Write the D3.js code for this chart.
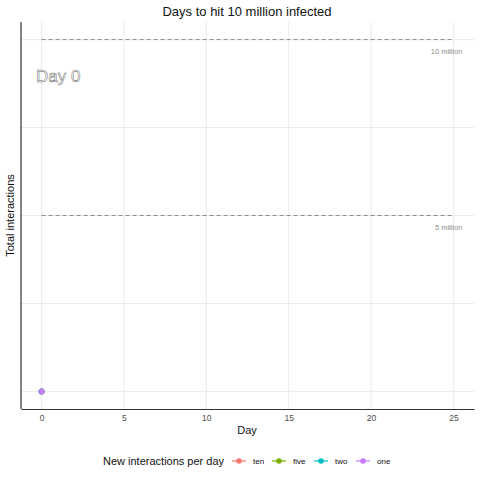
<!DOCTYPE html>
<html>
<head>
<meta charset="utf-8">
<script src="https://cdn.jsdelivr.net/npm/d3@7"></script>
<style>
  body { margin: 0; background: #fff; }
  text { font-family: "Liberation Sans", Arial, sans-serif; }
</style>
</head>
<body>
<div id="chart"></div>
<script>
// series shown in the legend (ggplot default hues)
const seriesNames = ["ten", "five", "two", "one"];
const seriesColors = ["#F8766D", "#7CAE00", "#00BFC4", "#C77CFF"];
// frame "Day 0": every series sits at the start
const seriesDays = [0, 0, 0, 0];
const seriesValues = [10, 5, 2, 1];

const xTicks = [0, 5, 10, 15, 20, 25];
const yGrid = [0, 2500000, 5000000, 7500000, 10000000];
const refValues = [10000000, 5000000];
const refLabels = ["10 million", "5 million"];

const width = 480, height = 480;
const margin = { top: 22, right: 6, bottom: 72, left: 21 };

const svg = d3.select("#chart").append("svg")
  .attr("width", width)
  .attr("height", height);

const x = d3.scaleLinear()
  .domain([-1.25, 26.25])
  .range([margin.left, width - margin.right]);

const y = d3.scaleLinear()
  .domain([-500000, 10500000])
  .range([height - margin.bottom + 1, margin.top]);

// gridlines
svg.append("g")
  .selectAll("line")
  .data(xTicks)
  .join("line")
  .attr("x1", d => x(d)).attr("x2", d => x(d))
  .attr("y1", y.range()[0]).attr("y2", y.range()[1])
  .attr("stroke", "#ebebeb").attr("stroke-width", 1);

svg.append("g")
  .selectAll("line")
  .data(yGrid)
  .join("line")
  .attr("x1", x.range()[0]).attr("x2", x.range()[1])
  .attr("y1", d => y(d)).attr("y2", d => y(d))
  .attr("stroke", "#ebebeb").attr("stroke-width", 1);

// reference lines
svg.append("g")
  .selectAll("line")
  .data(refValues)
  .join("line")
  .attr("x1", x(0)).attr("x2", x(25))
  .attr("y1", d => y(d)).attr("y2", d => y(d))
  .attr("stroke", "#8c8c8c")
  .attr("stroke-width", 1)
  .attr("stroke-dasharray", "4,3");

svg.append("g")
  .selectAll("text")
  .data(refValues)
  .join("text")
  .attr("x", x(25) + 9)
  .attr("y", d => y(d) + 14)
  .attr("text-anchor", "end")
  .attr("font-size", 7.5)
  .attr("fill", "#8c8c8c")
  .text((d, i) => refLabels[i]);

// axes
const xAxis = d3.axisBottom(x).tickValues(xTicks).tickSize(0).tickPadding(6);
const gx = svg.append("g")
  .attr("transform", `translate(0,${y.range()[0]})`)
  .call(xAxis);
gx.select(".domain").attr("stroke", "#333").attr("stroke-width", 1.2);
gx.selectAll("text").attr("font-size", 8.5).attr("fill", "#4d4d4d")
  .style("font-family", "Liberation Sans, Arial, sans-serif");

svg.append("line")
  .attr("x1", x.range()[0]).attr("x2", x.range()[0])
  .attr("y1", y.range()[0]).attr("y2", y.range()[1])
  .attr("stroke", "#333").attr("stroke-width", 1.2);

// points
svg.append("g")
  .selectAll("circle")
  .data(seriesNames)
  .join("circle")
  .attr("cx", (d, i) => x(seriesDays[i]))
  .attr("cy", (d, i) => y(seriesValues[i]))
  .attr("r", 3)
  .attr("fill", (d, i) => seriesColors[i]);

// frame label, white text with thin outline
svg.append("text")
  .attr("x", 36)
  .attr("y", 82)
  .attr("font-size", 17)
  .attr("fill", "#fff")
  .attr("stroke", "#555")
  .attr("stroke-width", 0.45)
  .text("Day 0");

// titles
svg.append("text")
  .attr("x", 247).attr("y", 16)
  .attr("text-anchor", "middle")
  .attr("font-size", 13)
  .attr("fill", "#111")
  .text("Days to hit 10 million infected");

svg.append("text")
  .attr("x", 247).attr("y", 434)
  .attr("text-anchor", "middle")
  .attr("font-size", 11)
  .attr("fill", "#111")
  .text("Day");

svg.append("text")
  .attr("transform", `translate(14,${(y.range()[0] + y.range()[1]) / 2}) rotate(-90)`)
  .attr("text-anchor", "middle")
  .attr("font-size", 11)
  .attr("fill", "#111")
  .text("Total interactions");

// legend
const legend = svg.append("g").attr("transform", "translate(103,461)");
legend.append("text")
  .attr("y", 4)
  .attr("font-size", 11)
  .attr("fill", "#111")
  .text("New interactions per day");

const keyX = [136, 176, 218, 260];
const item = legend.selectAll("g.key")
  .data(seriesNames)
  .join("g")
  .attr("class", "key")
  .attr("transform", (d, i) => `translate(${keyX[i]},0)`);
item.append("line")
  .attr("x1", -7).attr("x2", 7)
  .attr("stroke", (d, i) => seriesColors[i])
  .attr("stroke-width", 1.2);
item.append("circle")
  .attr("r", 2.8)
  .attr("fill", (d, i) => seriesColors[i]);
item.append("text")
  .attr("x", 14).attr("y", 3)
  .attr("font-size", 8)
  .attr("fill", "#111")
  .text(d => d);
</script>
</body>
</html>
